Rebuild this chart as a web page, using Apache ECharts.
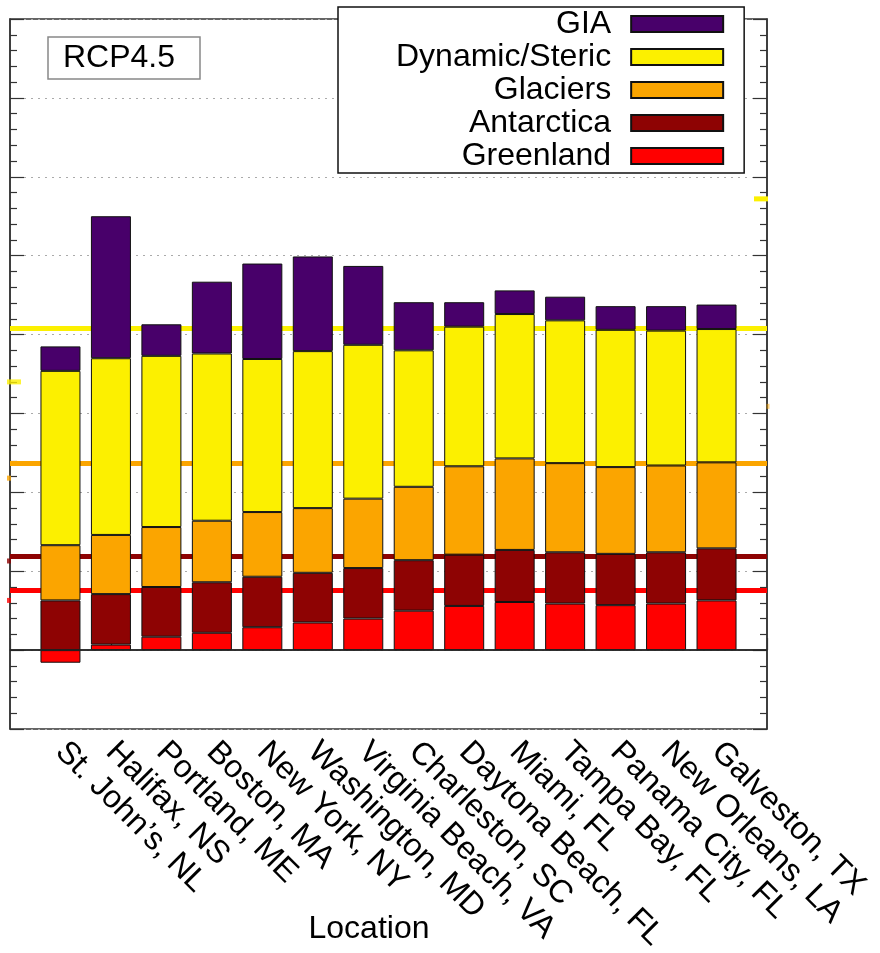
<!DOCTYPE html>
<html>
<head>
<meta charset="utf-8">
<script src="https://cdn.jsdelivr.net/npm/echarts@6/dist/echarts.min.js"></script>
<style>
html,body{margin:0;padding:0;background:#fff;}
#chart{width:880px;height:953px;}
</style>
</head>
<body>
<div id="chart"></div>
<script>
// ---- data ----
const locations = ['St. John’s, NL','Halifax, NS','Portland, ME','Boston, MA','New York, NY','Washington, MD','Virginia Beach, VA','Charleston, SC','Daytona Beach, FL','Miami, FL','Tampa Bay, FL','Panama City, FL','New Orleans, LA','Galveston, TX'];
const greenland  = [-1.6, 0.7, 1.7, 2.2, 2.9, 3.5, 4.0, 5.0, 5.6, 6.1, 5.9, 5.7, 5.9, 6.3];
const antarctica = [6.3, 6.4, 6.3, 6.4, 6.4, 6.3, 6.4, 6.4, 6.5, 6.6, 6.5, 6.5, 6.5, 6.6];
const glaciers   = [7.0, 7.5, 7.6, 7.8, 8.2, 8.2, 8.8, 9.3, 11.2, 11.6, 11.3, 11.0, 11.0, 10.9];
const steric     = [22.1, 22.4, 21.7, 21.2, 19.4, 19.9, 19.5, 17.3, 17.7, 18.3, 18.1, 17.4, 17.1, 16.9];
const gia        = [3.1, 18.0, 4.0, 9.1, 12.1, 12.0, 10.0, 6.1, 3.1, 3.0, 3.0, 3.0, 3.1, 3.1];
// reference (global) levels: Dynamic/Steric, Glaciers, Antarctica, Greenland
const refLines   = [40.8, 23.7, 11.9, 7.6];
const leftMarks  = [34.0, 21.8, 11.3, 6.3];
const rightMarks = [57.2, 30.9];
const yTicks = {min: -10, max: 80, interval: 10};

const C = {gia:'#48006a', steric:'#fcf000', glaciers:'#fba500', antarctica:'#8e0303', greenland:'#ff0000'};
const refColors = [C.steric, C.glaciers, C.antarctica, C.greenland];

const pad = arr => [null].concat(arr, [null]);
const cats = [''].concat(locations, ['']);

const barBase = (name, data, color) => ({
  name: name, type: 'bar', stack: 'total', data: pad(data), barWidth: 40, z: 3,
  itemStyle: {color: color, borderColor: '#111', borderWidth: 1}
});

const chart = echarts.init(document.getElementById('chart'), null, {renderer: 'canvas'});
const FONT = 'Liberation Sans, Arial, sans-serif';

chart.setOption({
  animation: false,
  textStyle: {fontFamily: FONT, color: '#000'},
  title: {
    text: 'RCP4.5', left: 48, top: 37,
    padding: [5, 25, 5, 15],
    borderColor: '#888', borderWidth: 1.5,
    textStyle: {fontFamily: FONT, fontSize: 32, fontWeight: 'normal', color: '#000'}
  },
  legend: {
    orient: 'vertical', align: 'right', left: 338, top: 7,
    padding: [1, 20, 1, 58], itemGap: 1,
    itemWidth: 92, itemHeight: 16, icon: 'rect',
    borderColor: '#111', borderWidth: 1.5, backgroundColor: '#fff',
    data: ['GIA', 'Dynamic/Steric', 'Glaciers', 'Antarctica', 'Greenland'],
    textStyle: {fontFamily: FONT, fontSize: 32, color: '#000', padding: [0, 15, 0, 0]},
    selectedMode: false, z: 10
  },
  grid: {left: 10, right: 113, top: 19, bottom: 224, show: true, borderColor: '#333', borderWidth: 1.5,
    backgroundColor: 'transparent', containLabel: false, outerBoundsMode: 'none'},
  xAxis: [{
    type: 'category', data: cats, boundaryGap: false,
    axisLine: {lineStyle: {color: '#333', width: 1.5}},
    axisTick: {inside: true, length: 12, lineStyle: {color: '#333', width: 1.2}, interval: 0},
    axisLabel: {interval: 0, rotate: -45, margin: 18, fontSize: 32, fontFamily: FONT, color: '#000'},
    splitLine: {show: false},
    name: 'Location', nameLocation: 'middle', nameGap: 184, nameMoveOverlap: false,
    nameTextStyle: {fontFamily: FONT, fontSize: 32, color: '#000', padding: [0, 39, 0, 0]}
  }, {
    type: 'value', min: 0, max: 1, show: false
  }],
  yAxis: [{
    type: 'value', min: yTicks.min, max: yTicks.max, interval: yTicks.interval,
    axisLine: {show: true, lineStyle: {color: '#333', width: 1.5}},
    axisTick: {inside: true, length: 14, lineStyle: {color: '#333', width: 1.2}},
    minorTick: {show: true, splitNumber: 5, length: 7, lineStyle: {color: '#333', width: 1.2}},
    axisLabel: {show: false},
    splitLine: {show: true, lineStyle: {color: '#aaa', type: [2, 5], width: 1}}
  }, {
    type: 'value', position: 'right', min: yTicks.min, max: yTicks.max, interval: yTicks.interval,
    axisLine: {show: true, lineStyle: {color: '#333', width: 1.5}},
    axisTick: {inside: true, length: 14, lineStyle: {color: '#333', width: 1.2}},
    minorTick: {show: true, splitNumber: 5, length: 7, lineStyle: {color: '#333', width: 1.2}},
    axisLabel: {show: false},
    splitLine: {show: false}
  }],
  series: [
    {
      name: 'refLines', type: 'line', data: [], z: 1, silent: true,
      markLine: {
        z: 1, silent: true, symbol: 'none', label: {show: false}, animation: false,
        data: refLines.map((v, i) => ({yAxis: v, lineStyle: {color: refColors[i], width: 5, type: 'solid'}}))
      }
    },
    barBase('Greenland', greenland, C.greenland),
    barBase('Antarctica', antarctica, C.antarctica),
    barBase('Glaciers', glaciers, C.glaciers),
    barBase('Dynamic/Steric', steric, C.steric),
    barBase('GIA', gia, C.gia),
    {
      name: 'zero', type: 'line', data: [], z: 4, silent: true,
      markLine: {z: 4, silent: true, symbol: 'none', label: {show: false},
        data: [{yAxis: 0, lineStyle: {color: '#222', width: 1.5, type: 'solid'}}]}
    },
    {
      name: 'leftMarks', type: 'scatter', xAxisIndex: 1, yAxisIndex: 0, clip: false, silent: true, z: 5,
      symbol: 'rect',
      data: leftMarks.map((v, i) => ({
        value: [0, v],
        symbolSize: i === 0 ? [14, 5] : [4, 5],
        symbolOffset: i === 0 ? [4, 0] : [-1, 0],
        itemStyle: {color: refColors[i]}
      }))
    },
    {
      name: 'rightMarks', type: 'scatter', xAxisIndex: 1, yAxisIndex: 0, clip: false, silent: true, z: 5,
      symbol: 'rect',
      data: rightMarks.map((v, i) => ({
        value: [1, v],
        symbolSize: i === 0 ? [14, 5] : [3, 5],
        symbolOffset: i === 0 ? [-6, 0] : [1, 0],
        itemStyle: {color: refColors[i], opacity: i === 0 ? 1 : 0.5}
      }))
    }
  ]
});
</script>
</body>
</html>
